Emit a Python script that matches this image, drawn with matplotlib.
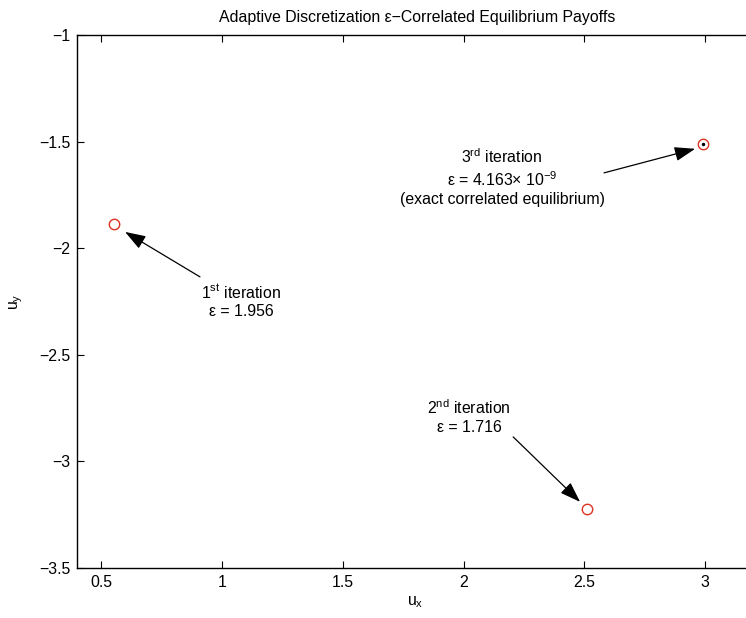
import matplotlib
matplotlib.use("Agg")
import matplotlib.pyplot as plt

plt.rcParams['font.family'] = ['Liberation Sans', 'DejaVu Sans']
plt.rcParams['mathtext.fontset'] = 'custom'
plt.rcParams['mathtext.rm'] = 'Liberation Sans'
plt.rcParams['mathtext.it'] = 'Liberation Sans'
plt.rcParams['font.size'] = 11

# payoffs found at each iteration
ux = [0.555, 2.51, 2.99]
uy = [-1.885, -3.225, -1.51]

labels = [
    '1$^{\\rm st}$ iteration\nε = 1.956',
    '2$^{\\rm nd}$ iteration\nε = 1.716',
    '3$^{\\rm rd}$ iteration\nε = 4.163× 10$^{-9}$\n(exact correlated equilibrium)',
]
# text centre, arrow tail, arrow head (data units)
text_pos = [(1.079, -2.245), (2.022, -2.79), (2.159, -1.665)]
tails = [(0.909, -2.134), (2.205, -2.885), (2.581, -1.646)]
heads = [(0.599, -1.923), (2.482, -3.190), (2.958, -1.533)]

xticks = [0.5, 1, 1.5, 2, 2.5, 3]
yticks = [-3.5, -3, -2.5, -2, -1.5, -1]

fig = plt.figure(figsize=(7.46, 6.18), dpi=100)
ax = fig.add_axes([0.1032, 0.081, 0.907, 0.862])

ax.plot(ux, uy, 'o', mfc='none', mec='#dd3322', ms=7.5, mew=1.0, zorder=3)
ax.plot(ux[2], uy[2], '.', color='k', ms=3, zorder=4)

for lab, tp, t, h in zip(labels, text_pos, tails, heads):
    ax.text(tp[0], tp[1], lab, ha='center', va='center', fontsize=11.4, linespacing=1.25)
    ax.annotate('', xy=h, xytext=t,
                arrowprops=dict(arrowstyle='-|>,head_length=1.15,head_width=0.4',
                                color='k', lw=0.9, shrinkA=0, shrinkB=0))

ax.set_xlim(0.4, 3.2)
ax.set_ylim(-3.5, -1)
ax.set_xticks(xticks)
ax.set_xticklabels(['0.5', '1', '1.5', '2', '2.5', '3'])
ax.set_yticks(yticks)
ax.set_yticklabels(['−3.5', '−3', '−2.5', '−2', '−1.5', '−1'])
ax.tick_params(direction='in', length=5, width=0.8, top=True, right=True,
               labelsize=11.4, pad=5)
for s in ax.spines.values():
    s.set_linewidth(1.0)

ax.set_xlabel('u$_{\\rm x}$', fontsize=11.4, labelpad=3)
ax.set_ylabel('u$_{\\rm y}$', fontsize=11.4, labelpad=10)
fig.text(0.559, 0.972, 'Adaptive Discretization ε−Correlated Equilibrium Payoffs',
         ha='center', va='center', fontsize=11.4)

fig.savefig('out.png', dpi=100)
